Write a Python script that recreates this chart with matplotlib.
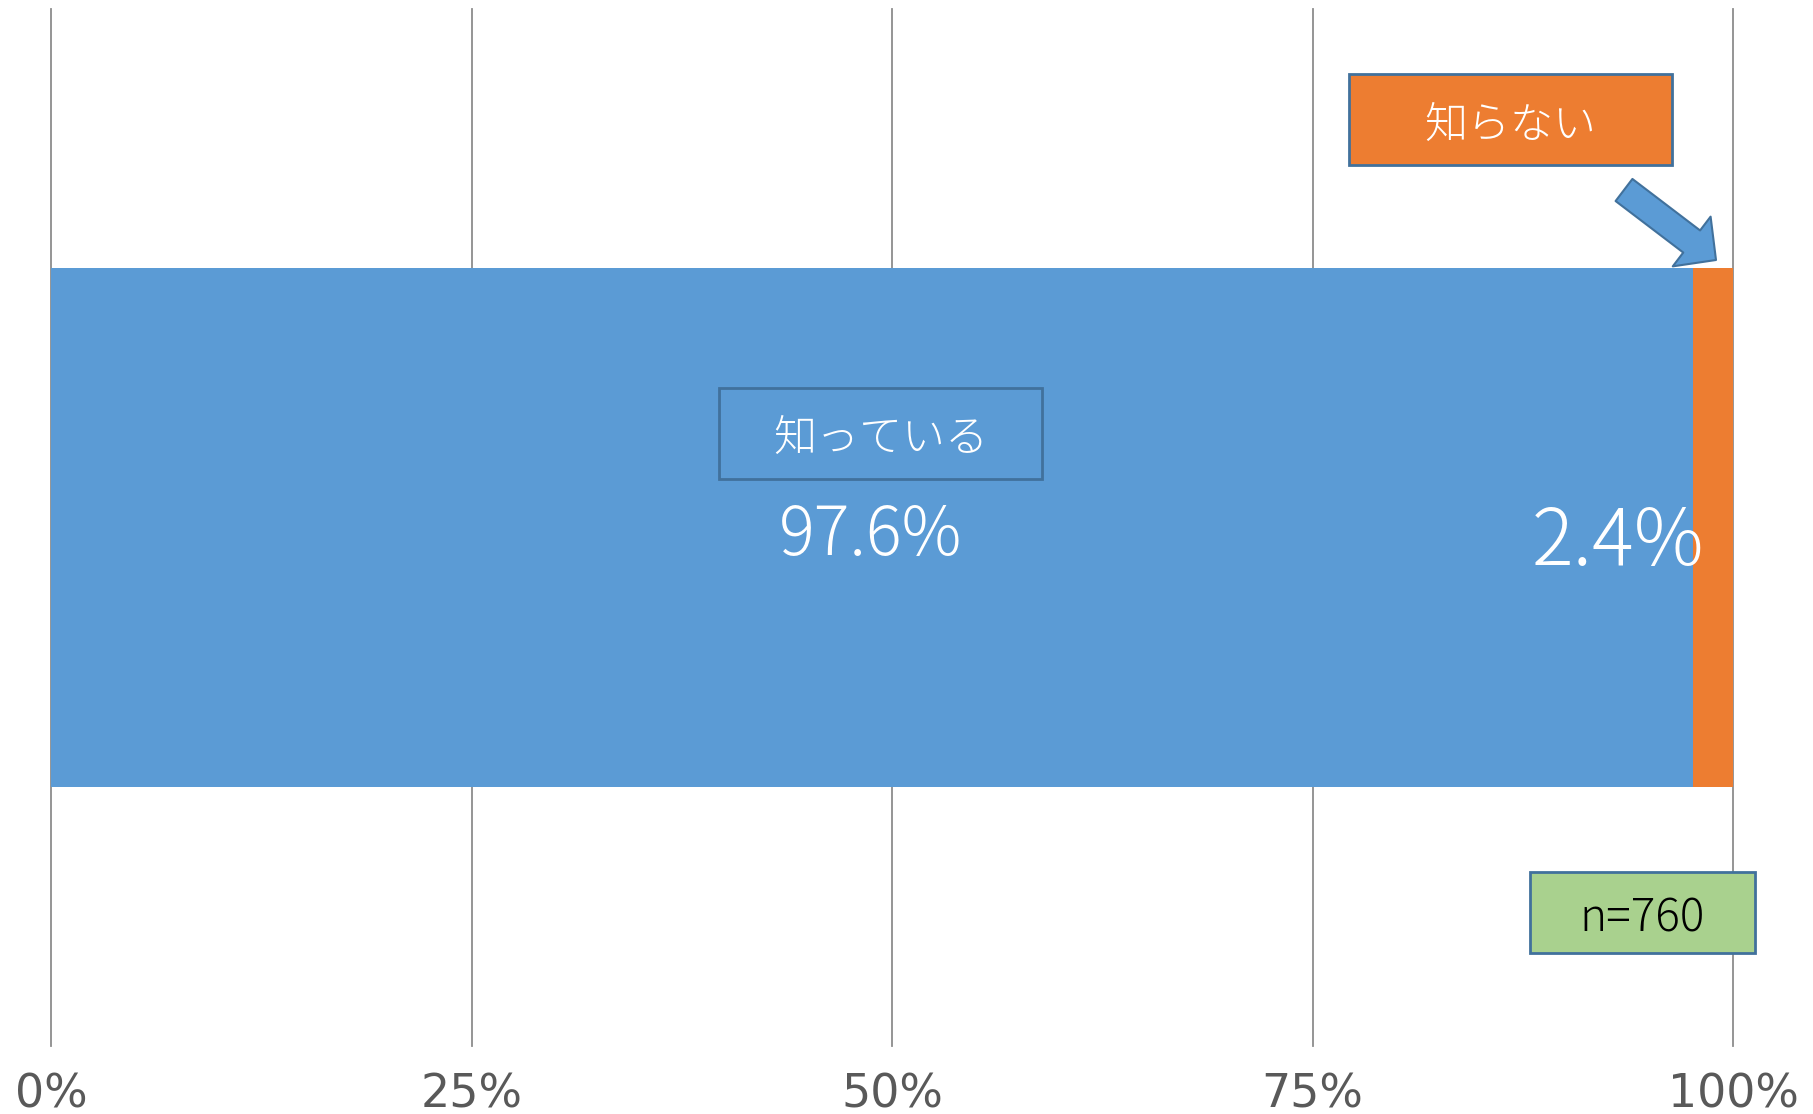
import matplotlib
matplotlib.use("Agg")
import matplotlib.pyplot as plt
from matplotlib.patches import FancyBboxPatch, FancyArrowPatch, ArrowStyle

plt.rcParams['font.family'] = ['Noto Sans CJK JP', 'DejaVu Sans']

categories = ["知っている", "知らない"]
values = [97.6, 2.4]
colors = ["#5B9BD5", "#ED7D31"]
value_labels = ["97.6%", "2.4%"]
tick_values = [0, 25, 50, 75, 100]
tick_labels = ["0%", "25%", "50%", "75%", "100%"]
sample_note = "n=760"

W, H = 1813, 1114
fig = plt.figure(figsize=(W / 100, H / 100), dpi=100)
ax = fig.add_axes([51 / W, 1 - 1046 / H, 1682 / W, 1037 / H])

left = 0
for v, c in zip(values, colors):
    ax.barh(0, v, left=left, height=0.5, color=c, zorder=2)
    left += v

ax.set_xlim(0, 100)
ax.set_ylim(-0.5, 0.5)
ax.set_xticks(tick_values)
ax.set_xticklabels(tick_labels, fontsize=33, color="#595959", family="DejaVu Sans")
ax.set_yticks([])
ax.tick_params(axis='x', length=0, pad=19)
for t in tick_values:
    ax.axvline(t, color="#8C8C8C", lw=1.3, zorder=1, clip_on=False)
for s in ax.spines.values():
    s.set_visible(False)


def fx(px):
    return (px - 51) / 1682


def fy(py):
    return (1046 - py) / 1037


# value labels
ax.text(fx(871), fy(536), value_labels[0], transform=ax.transAxes,
        ha='center', va='center', fontsize=48, color='white', zorder=5,
        fontweight='light')
ax.text(fx(1618), fy(543), value_labels[1], transform=ax.transAxes,
        ha='center', va='center', fontsize=56, color='white', zorder=5,
        fontweight='light')


def box(x0, y0, x1, y1, text, fc, tc, fs, dy):
    p = FancyBboxPatch((fx(x0), fy(y1)), fx(x1) - fx(x0), fy(y0) - fy(y1),
                       boxstyle="square,pad=0",
                       transform=ax.transAxes, fc=fc, ec="#41719C", lw=2,
                       zorder=6, clip_on=False)
    ax.add_patch(p)
    ax.text(fx((x0 + x1) / 2), fy((y0 + y1) / 2 + dy), text, transform=ax.transAxes,
            ha='center', va='center', fontsize=fs, color=tc, zorder=7,
            fontweight='light')


box(719, 388, 1042, 479, categories[0], 'none', 'white', 31, 5)
box(1349, 74, 1672, 165, categories[1], colors[1], 'white', 31, 6)
box(1530, 872, 1755, 953, sample_note, '#A9D18E', 'black', 33, 6)

arrow = FancyArrowPatch((fx(1624), fy(190)), (fx(1716), fy(260)),
                        transform=ax.transAxes,
                        arrowstyle=ArrowStyle.Simple(head_length=22, head_width=45, tail_width=20),
                        mutation_scale=1, shrinkA=0, shrinkB=0,
                        fc="#5B9BD5", ec="#41719C", lw=1.5, zorder=8, clip_on=False)
ax.add_patch(arrow)

fig.savefig("out.png", dpi=100)
